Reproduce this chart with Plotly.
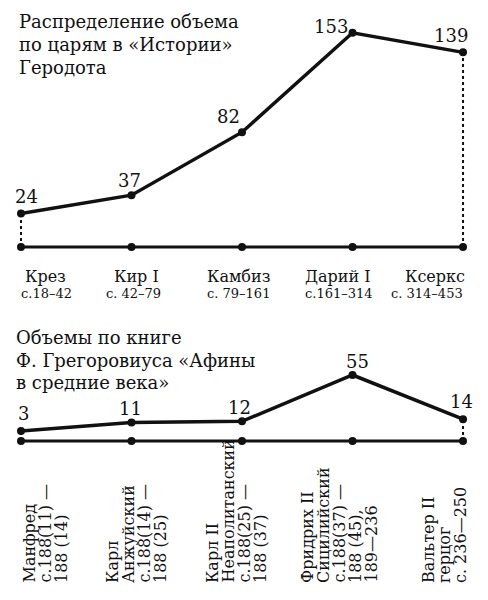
import plotly.graph_objects as go

# ---------------- data ----------------
TOP_KINGS = ["Крез", "Кир I", "Камбиз", "Дарий I", "Ксеркс"]
TOP_PAGES = ["с.18–42", "с. 42–79", "с. 79–161", "с.161–314", "с. 314–453"]
TOP_VALUES = [24, 37, 82, 153, 139]
TOP_TITLE = ["Распределение объема", "по царям в «Истории»", "Геродота"]

BOTTOM_LABELS = [
    ["Манфред", "с.188(11) —", "188 (14)"],
    ["Карл", "Анжуйский", "с.188(14) —", "188 (25)"],
    ["Карл II", "Неаполитанский", "с.188(25) —", "188 (37)"],
    ["Фридрих II", "Сицилийский", "с.188(37) —", "188 (45),", "189—236"],
    ["Вальтер II", "герцог", "с. 236—250"],
]
BOTTOM_VALUES = [3, 11, 12, 55, 14]
BOTTOM_TITLE = ["Объемы по книге", "Ф. Грегоровиуса «Афины", "в средние века»"]

# ---------------- styling / layout constants ----------------
W, H = 488, 600
FONT = "DejaVu Serif"
INK = "#111111"
BASE2 = -6.3  # baseline level of the lower chart (in its own scale)
idx = list(range(len(TOP_VALUES)))


def py(px):
    return 1 - px / H


fig = go.Figure()

# upper chart: baseline axis with category dots
fig.add_trace(go.Scatter(x=idx, y=[0] * len(idx), mode="lines+markers",
                         line=dict(color=INK, width=3), marker=dict(color=INK, size=8),
                         hoverinfo="skip"))
# dotted connectors
for i in (0, len(idx) - 1):
    fig.add_trace(go.Scatter(x=[i, i], y=[0, TOP_VALUES[i]], mode="lines",
                             line=dict(color=INK, width=2, dash="dot"), hoverinfo="skip"))
fig.add_trace(go.Scatter(x=idx, y=TOP_VALUES, mode="lines+markers",
                         line=dict(color=INK, width=3.5), marker=dict(color=INK, size=8)))

# lower chart
fig.add_trace(go.Scatter(x=idx, y=[BASE2] * len(idx), yaxis="y2", mode="lines+markers",
                         line=dict(color=INK, width=3), marker=dict(color=INK, size=8),
                         hoverinfo="skip"))
for i in (0, len(idx) - 1):
    fig.add_trace(go.Scatter(x=[i, i], y=[BASE2, BOTTOM_VALUES[i]], yaxis="y2", mode="lines",
                             line=dict(color=INK, width=2, dash="dot"), hoverinfo="skip"))
fig.add_trace(go.Scatter(x=idx, y=BOTTOM_VALUES, yaxis="y2", mode="lines+markers",
                         line=dict(color=INK, width=3.5), marker=dict(color=INK, size=8)))

ann = []
# titles
for k, line in enumerate(TOP_TITLE):
    ann.append(dict(xref="paper", yref="paper", x=17 / W, y=py([22, 45, 68][k]),
                    xanchor="left", yanchor="middle", text=line, showarrow=False,
                    font=dict(family=FONT, size=18, color=INK)))
for k, line in enumerate(BOTTOM_TITLE):
    ann.append(dict(xref="paper", yref="paper", x=14 / W, y=py([337, 360, 382][k]),
                    xanchor="left", yanchor="middle", text=line, showarrow=False,
                    font=dict(family=FONT, size=18, color=INK)))

# upper category labels
NAME_DX = [24, 4.5, -4, -14.5, -28]
PAGE_DX = [25, 1.5, -4, -13.5, -36]
for i in idx:
    ann.append(dict(xref="x", yref="paper", x=i, y=py(276), xshift=NAME_DX[i],
                    xanchor="center", yanchor="middle", text=TOP_KINGS[i], showarrow=False,
                    font=dict(family=FONT, size=16, color=INK)))
    ann.append(dict(xref="x", yref="paper", x=i, y=py(293), xshift=PAGE_DX[i],
                    xanchor="center", yanchor="middle", text=TOP_PAGES[i], showarrow=False,
                    font=dict(family=FONT, size=13, color=INK)))

# value labels
TOP_SHIFT = [(5, 4), (-2.5, 2), (-14, 3), (-21.5, -6), (-12, 4)]
BOT_SHIFT = [(2, 5), (-1.5, 1), (-3, 1), (4.5, 1), (-2, 5)]
for i in idx:
    ann.append(dict(xref="x", yref="y", x=i, y=TOP_VALUES[i], xshift=TOP_SHIFT[i][0],
                    yshift=TOP_SHIFT[i][1], xanchor="center", yanchor="bottom",
                    text=str(TOP_VALUES[i]), showarrow=False,
                    font=dict(family=FONT, size=18, color=INK)))
    ann.append(dict(xref="x", yref="y2", x=i, y=BOTTOM_VALUES[i], xshift=BOT_SHIFT[i][0],
                    yshift=BOT_SHIFT[i][1], xanchor="center", yanchor="bottom",
                    text=str(BOTTOM_VALUES[i]), showarrow=False,
                    font=dict(family=FONT, size=18, color=INK)))

# rotated lower labels
FIRST_DX = [8, -19.5, -30, -45.5, -35]
STEP = 16
for i in idx:
    for k, line in enumerate(BOTTOM_LABELS[i]):
        ann.append(dict(xref="x", yref="paper", x=i, y=py(585), xshift=FIRST_DX[i] + k * STEP,
                        xanchor="center", yanchor="bottom", textangle=-90, text=line,
                        showarrow=False, font=dict(family=FONT, size=16, color=INK)))

fig.update_layout(
    width=W, height=H, margin=dict(l=0, r=0, t=0, b=0),
    paper_bgcolor="white", plot_bgcolor="white", showlegend=False,
    xaxis=dict(range=[-0.190, 4.226], visible=False, fixedrange=True),
    yaxis=dict(range=[-252.1, 176.4], visible=False, domain=[0, 1]),
    yaxis2=dict(range=[-153.9, 403.2], visible=False, overlaying="y"),
    annotations=ann,
)

fig.write_html("out.html", config={"displayModeBar": False},
               post_script="document.body.style.margin='0';document.body.style.overflow='hidden';")
